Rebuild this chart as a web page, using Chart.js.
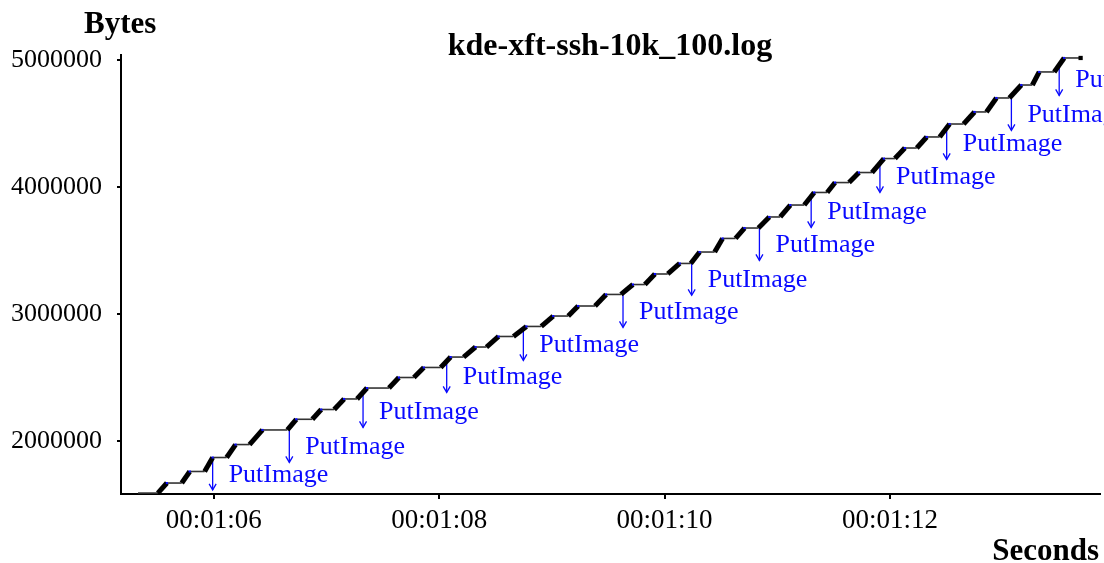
<!DOCTYPE html>
<html>
<head>
<meta charset="utf-8">
<script src="https://cdn.jsdelivr.net/npm/chart.js@4.4.0/dist/chart.umd.min.js"></script>
<style>
  html, body { margin: 0; padding: 0; background: #fff; }
  #wrap { width: 1104px; height: 563px; }
</style>
</head>
<body>
<div id="wrap"><canvas id="chart" width="1104" height="563"></canvas></div>
<script>
// staircase of the byte counter (seconds / bytes)
const firstSec = 65.329;
const lastSec = 73.690;
const riseStartSec = [65.505, 65.717, 65.920, 66.115, 66.318, 66.654, 66.875, 67.069, 67.272, 67.555,
  67.776, 68.014, 68.217, 68.420, 68.659, 68.906, 69.145, 69.383, 69.613, 69.825,
  70.028, 70.232, 70.444, 70.629, 70.832, 71.026, 71.239, 71.442, 71.636, 71.839,
  72.043, 72.237, 72.440, 72.652, 72.855, 73.058, 73.262, 73.456];
const riseEndSec = [65.585, 65.788, 65.991, 66.194, 66.433, 66.733, 66.954, 67.157, 67.360, 67.643,
  67.864, 68.102, 68.323, 68.527, 68.774, 69.012, 69.233, 69.481, 69.719, 69.914,
  70.134, 70.311, 70.514, 70.709, 70.929, 71.115, 71.327, 71.512, 71.724, 71.945,
  72.131, 72.325, 72.528, 72.749, 72.943, 73.164, 73.323, 73.544];
const levelBytes = [1590000, 1669000, 1760000, 1870000, 1972000, 2087000, 2171000, 2248000, 2331000, 2417000,
  2500000, 2579000, 2661000, 2740000, 2823000, 2902000, 2984000, 3063000, 3154000, 3232000,
  3315000, 3398000, 3488000, 3595000, 3677000, 3764000, 3858000, 3957000, 4035000, 4114000,
  4224000, 4307000, 4394000, 4496000, 4591000, 4701000, 4803000, 4906000, 5016000];

// PutImage events
const putImageLabel = 'PutImage';
const putImageSec = [65.991, 66.671, 67.325, 68.067, 68.747, 69.631, 70.240, 70.841, 71.300, 71.910, 72.502, 73.076, 73.500];
const putImageBytes = [1870000, 2087000, 2362000, 2638000, 2890000, 3150000, 3402000, 3677000, 3937000, 4213000, 4472000, 4701000, 4976000];
const ARROW_LEN = 255000;

// axes
const xTicks = [66, 68, 70, 72];
const yTicks = [2000000, 3000000, 4000000, 5000000];
const xRange = [65.178, 73.862];
const yRange = [1582700, 5039400];

const SERIF = "'Liberation Serif', 'DejaVu Serif', 'Times New Roman', serif";
const BLUE = '#0a0aff';

// build the step line: flat, rise, flat, rise ...
const stepPoints = [{ x: firstSec, y: levelBytes[0] }];
riseStartSec.forEach((s, i) => {
  stepPoints.push({ x: s, y: levelBytes[i] });
  stepPoints.push({ x: riseEndSec[i], y: levelBytes[i + 1] });
});
stepPoints.push({ x: lastSec, y: levelBytes[levelBytes.length - 1] });

// arrow shafts, separated by gaps
const arrowPoints = [];
putImageSec.forEach((s, i) => {
  arrowPoints.push({ x: s, y: putImageBytes[i] });
  arrowPoints.push({ x: s, y: putImageBytes[i] - ARROW_LEN });
  arrowPoints.push({ x: s, y: null });
});

function fmtTime(v) {
  const s = Math.round(v);
  const pad = n => String(n).padStart(2, '0');
  return '00:' + pad(Math.floor(s / 60)) + ':' + pad(s % 60);
}

const isRise = ctx => ctx.p0.parsed.y !== ctx.p1.parsed.y;

const annotations = {
  id: 'annotations',
  afterDatasetsDraw(chart) {
    const { ctx, scales: { x, y } } = chart;
    ctx.save();
    ctx.strokeStyle = BLUE;
    ctx.fillStyle = BLUE;
    ctx.lineWidth = 1.3;
    ctx.font = '26px ' + SERIF;
    ctx.textBaseline = 'middle';
    putImageSec.forEach((s, i) => {
      const px = x.getPixelForValue(s);
      const py = y.getPixelForValue(putImageBytes[i] - ARROW_LEN);
      ctx.beginPath();
      ctx.moveTo(px - 3.5, py - 6);
      ctx.lineTo(px, py);
      ctx.lineTo(px + 3.5, py - 6);
      ctx.stroke();
      ctx.fillText(putImageLabel, px + 16, py - 15);
    });
    ctx.restore();
  },
  afterDraw(chart) {
    const { ctx } = chart;
    ctx.save();
    ctx.fillStyle = '#000';
    ctx.textBaseline = 'alphabetic';
    ctx.font = 'bold 31px ' + SERIF;
    ctx.textAlign = 'left';
    ctx.fillText('Bytes', 84, 33);
    ctx.textAlign = 'right';
    ctx.fillText('Seconds', 1099, 560);
    ctx.font = 'bold 32px ' + SERIF;
    ctx.textAlign = 'center';
    ctx.fillText('kde-xft-ssh-10k_100.log', 610, 55);
    ctx.restore();
  }
};

new Chart(document.getElementById('chart'), {
  type: 'line',
  data: {
    datasets: [
      {
        data: stepPoints,
        borderColor: '#000',
        borderWidth: 1.5,
        segment: {
          borderWidth: ctx => isRise(ctx) ? 5 : 1.6,
          borderColor: ctx => isRise(ctx) ? '#000' : '#333'
        },
        pointRadius: ctx => ctx.dataIndex === stepPoints.length - 1 ? 3 : (ctx.dataIndex % 2 === 0 && ctx.dataIndex > 0 ? 1.5 : 0),
        pointStyle: 'rect',
        pointBackgroundColor: ctx => ctx.dataIndex === stepPoints.length - 1 ? '#000' : BLUE,
        pointBorderWidth: 0,
        tension: 0,
        fill: false
      },
      {
        data: arrowPoints,
        borderColor: BLUE,
        borderWidth: 1.3,
        pointRadius: 0,
        spanGaps: false,
        fill: false
      }
    ]
  },
  options: {
    responsive: false,
    animation: false,
    layout: { padding: { top: 55, right: 0, left: 0, bottom: 0 } },
    plugins: {
      legend: { display: false },
      tooltip: { enabled: false },
      title: { display: false }
    },
    scales: {
      x: {
        type: 'linear',
        min: xRange[0],
        max: xRange[1],
        afterBuildTicks: scale => { scale.ticks = xTicks.map(v => ({ value: v })); },
        afterFit: scale => { scale.height = 69; },
        border: { display: true, color: '#000', width: 2 },
        grid: { drawOnChartArea: false, drawTicks: true, tickLength: 5, color: '#000', lineWidth: 2 },
        ticks: {
          color: '#000',
          font: { family: SERIF, size: 27 },
          padding: 6,
          maxRotation: 0,
          autoSkip: false,
          callback: v => fmtTime(v)
        }
      },
      y: {
        type: 'linear',
        min: yRange[0],
        max: yRange[1],
        afterBuildTicks: scale => { scale.ticks = yTicks.map(v => ({ value: v })); },
        afterFit: scale => { scale.width = 121; },
        border: { display: true, color: '#000', width: 2 },
        grid: { drawOnChartArea: false, drawTicks: true, tickLength: 4, color: '#000', lineWidth: 2 },
        ticks: {
          color: '#000',
          font: { family: SERIF, size: 26 },
          padding: 15,
          autoSkip: false,
          callback: v => String(v)
        }
      }
    }
  },
  plugins: [annotations]
});
</script>
</body>
</html>
